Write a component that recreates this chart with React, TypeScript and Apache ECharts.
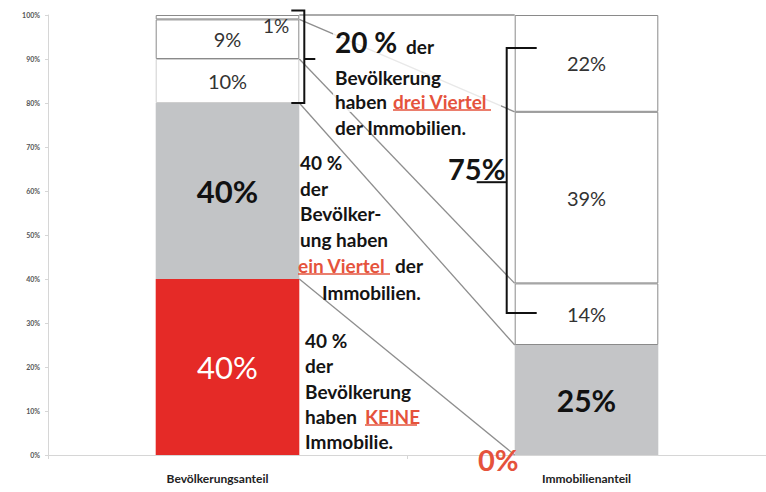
import React, { useEffect, useRef } from "react";
import * as echarts from "echarts";

const categories = ["Bevölkerungsanteil", "Immobilienanteil"];
// stacked segments, bottom to top (percent)
const segBottom = [40, 0];
const segSecond = [40, 25];
const segThird = [10, 14];
const segFourth = [9, 39];
const segTop = [1, 22];
// connectors: cumulative share of population -> cumulative share of property
const connFrom = [100, 99, 90, 80, 40];
const connTo = [100, 78, 39, 25, 0];
// brackets (top, middle, bottom) in axis values
const leftBracket = [101, 90, 80];
const rightBracket = [92.5, 62, 32.3];

const FONT = "Lato, 'Open Sans', sans-serif";
const RED = "#e52a27";
const RED_TEXT = "#e5533c";
const GRAY_L = "#c2c4c6";
const GRAY_R = "#c4c5c7";
const BORDER = "#8a8a8a";
const TXT = "#141414";

function lbl(text: string, color: string, size: number, weight: string | number = "normal", extra: any = {}) {
  return { show: true, formatter: text, color, fontSize: size, fontWeight: weight, fontFamily: FONT, ...extra };
}

export default function App() {
  const ref = useRef<HTMLDivElement>(null);
  useEffect(() => {
    if (!ref.current) return;
    const chart = echarts.init(ref.current, null, { renderer: "svg" });
    const t = (text: string, x: number, y: number, size = 19, color = TXT, weight: any = "bold") => ({
      type: "text",
      z: 100,
      x,
      y,
      style: {
        text,
        fill: color,
        fontSize: size,
        fontWeight: weight,
        fontFamily: FONT,
        verticalAlign: "middle",
      },
    });
    const ul = (x1: number, x2: number, y: number) => ({
      type: "line",
      z: 100,
      shape: { x1, y1: y, x2, y2: y },
      style: { stroke: RED_TEXT, lineWidth: 1.5 },
    });
    const option: any = {
      animation: false,
      backgroundColor: "#ffffff",
      grid: { left: 48, right: 0, top: 15, bottom: 37, containLabel: false },
      xAxis: {
        type: "category",
        data: categories,
        axisLine: { lineStyle: { color: "#d6d6d6", width: 1 } },
        axisTick: { show: true, length: 4, lineStyle: { color: "#d6d6d6" } },
        axisLabel: {
          color: "#222",
          fontSize: 12,
          fontWeight: "bold",
          fontFamily: FONT,
          margin: 17,
          formatter: (v: string, i: number) => (i === 0 ? "{a|" + v + "}" : "{b|" + v + "}"),
          rich: {
            a: { fontSize: 12, fontWeight: "bold", fontFamily: FONT, color: "#222", padding: [0, 20, 0, 0] },
            b: { fontSize: 12, fontWeight: "bold", fontFamily: FONT, color: "#222" },
          },
        },
      },
      yAxis: {
        type: "value",
        min: 0,
        max: 100,
        interval: 10,
        axisLine: { show: true, lineStyle: { color: "#d6d6d6" } },
        axisTick: { show: true, length: 3, lineStyle: { color: "#d6d6d6" } },
        splitLine: { show: false },
        axisLabel: { formatter: "{value}%", fontSize: 7, fontWeight: "bold", color: "#555", fontFamily: FONT, margin: 8 },
      },
      series: [
        {
          type: "bar",
          stack: "s",
          barWidth: "40%",
          silent: true,
          data: [
            { value: segBottom[0], itemStyle: { color: RED }, label: lbl(segBottom[0] + "%", "#ffffff", 31, "normal") },
            { value: segBottom[1], itemStyle: { color: "transparent" } },
          ],
        },
        {
          type: "bar",
          stack: "s",
          silent: true,
          data: [
            { value: segSecond[0], itemStyle: { color: GRAY_L }, label: lbl(segSecond[0] + "%", "#111", 31, "bold") },
            { value: segSecond[1], itemStyle: { color: GRAY_R }, label: lbl(segSecond[1] + "%", "#111", 30, "bold") },
          ],
        },
        {
          type: "bar",
          stack: "s",
          silent: true,
          data: [
            { value: segThird[0], itemStyle: { color: "#ffffff", borderColor: "#cfcfcf", borderWidth: 1 }, label: lbl(segThird[0] + "%", "#333", 20) },
            { value: segThird[1], itemStyle: { color: "#ffffff", borderColor: BORDER, borderWidth: 1 }, label: lbl(segThird[1] + "%", "#333", 20) },
          ],
        },
        {
          type: "bar",
          stack: "s",
          silent: true,
          data: [
            { value: segFourth[0], itemStyle: { color: "#ffffff", borderColor: BORDER, borderWidth: 1 }, label: lbl(segFourth[0] + "%", "#333", 20) },
            { value: segFourth[1], itemStyle: { color: "#ffffff", borderColor: BORDER, borderWidth: 1 }, label: lbl(segFourth[1] + "%", "#333", 20) },
          ],
        },
        {
          type: "bar",
          stack: "s",
          silent: true,
          data: [
            {
              value: segTop[0],
              itemStyle: { color: "#ffffff", borderColor: BORDER, borderWidth: 1 },
              label: lbl(segTop[0] + "%", "#333", 19, "normal", { position: "insideRight", distance: 10, offset: [0, 8] }),
            },
            { value: segTop[1], itemStyle: { color: "#ffffff", borderColor: BORDER, borderWidth: 1 }, label: lbl(segTop[1] + "%", "#333", 20) },
          ],
        },
        {
          type: "custom",
          coordinateSystem: "cartesian2d",
          silent: true,
          z: 3,
          clip: false,
          encode: { x: 0, y: 1 },
          data: connFrom.map((f, i) => [0, f, connTo[i]]),
          renderItem: (params: any, api: any) => {
            const from = api.value(1);
            const to = api.value(2);
            const a = api.coord([0, from]);
            const b = api.coord([1, to]);
            const half = api.size([1, 0])[0] * 0.2;
            return {
              type: "line",
              shape: { x1: a[0] + half, y1: a[1], x2: b[0] - half, y2: b[1] },
              style: { stroke: "#8e8e8e", lineWidth: 1.3 },
            };
          },
        },
        {
          type: "custom",
          coordinateSystem: "cartesian2d",
          silent: true,
          z: 4,
          clip: false,
          encode: { x: 0, y: 1 },
          data: [[0, 50]],
          renderItem: (params: any, api: any) => {
            const half = api.size([1, 0])[0] * 0.2;
            const lx = api.coord([0, 0])[0] + half;
            const rx = api.coord([1, 0])[0] - half;
            const ly = leftBracket.map((v) => api.coord([0, v])[1]);
            const ry = rightBracket.map((v) => api.coord([1, v])[1]);
            const st = { stroke: "#111", lineWidth: 2, fill: null };
            const vx = lx + 5;
            const rvx = rx - 8;
            return {
              type: "group",
              children: [
                { type: "polyline", shape: { points: [[lx - 8, ly[0]], [vx, ly[0]], [vx, ly[2]], [lx - 8, ly[2]]] }, style: st },
                { type: "line", shape: { x1: vx, y1: ly[1], x2: vx + 11, y2: ly[1] }, style: st },
                { type: "polyline", shape: { points: [[rx + 22, ry[0]], [rvx, ry[0]], [rvx, ry[2]], [rx + 22, ry[2]]] }, style: st },
                { type: "line", shape: { x1: rvx, y1: ry[1], x2: rvx - 30, y2: ry[1] }, style: st },
              ],
            };
          },
        },
      ],
      graphic: [
        { type: "rect", z: 90, shape: { x: 333, y: 28, width: 168, height: 84 }, style: { fill: "rgba(255,255,255,0.8)" } },
        t("20 %", 335, 42, 28),
        t("der", 406, 46, 19),
        t("Bevölkerung", 335, 77),
        t("haben", 335, 101),
        t("drei Viertel", 393, 101, 19, RED_TEXT),
        ul(393, 491, 110),
        t("der Immobilien.", 335, 127),

        t("40 %", 300, 162),
        t("der", 300, 188),
        t("Bevölker-", 300, 213),
        t("ung haben", 300, 239),
        t("ein Viertel", 298, 265, 19, RED_TEXT),
        ul(298, 390, 274),
        t("der", 395, 265),
        t("Immobilien.", 322, 292),

        t("75%", 448, 168, 29),

        t("40 %", 305, 340),
        t("der", 305, 365),
        t("Bevölkerung", 305, 391),
        t("haben", 305, 416),
        t("KEINE", 365, 416, 19, RED_TEXT),
        ul(365, 417, 425),
        t("Immobilie.", 305, 441),

        t("0%", 478, 459, 29, RED_TEXT),
      ],
    };
    chart.setOption(option);
    return () => chart.dispose();
  }, []);
  return (
    <div
      ref={ref}
      style={{ position: "fixed", left: 0, top: 0, width: 766, height: 492, background: "#fff" }}
    />
  );
}
